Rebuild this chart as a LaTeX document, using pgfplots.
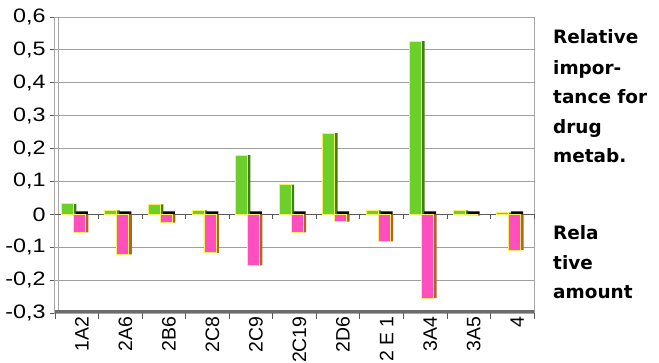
\documentclass[border=0pt]{standalone}
\usepackage{pgfplots}
\pgfplotsset{compat=1.18}
\usepackage{fontspec}
\setmainfont{Liberation Sans}
\newfontfamily\dv{DejaVu Sans}
\newfontfamily\ytf[FakeStretch=1.2]{Liberation Sans}
\definecolor{gfront}{HTML}{6CCF2A}
\definecolor{gside}{HTML}{3F7E14}
\definecolor{pfront}{HTML}{FF4FBF}
\definecolor{pside}{HTML}{B0642A}
\definecolor{edge}{HTML}{F4F060}
\begin{document}
\begin{tikzpicture}
\useasboundingbox (-55bp,-50bp) rectangle (604bp,313bp);
\begin{axis}[
  at={(0,0)}, anchor=south west,
  scale only axis, width=479bp, height=296bp,
  xmin=-0.5, xmax=10.5, ymin=-0.3, ymax=0.6,
  ytick={-0.3,-0.2,...,0.6},
  xtick={-0.5,0.5,...,10.5}, xticklabels={},
  extra x ticks={0,1,2,3,4,5,6,7,8,9,10},
  extra x tick labels={1A2,2A6,2B6,2C8,2C9,2C19,2D6,2 E 1,3A4,3A5,4},
  extra x tick style={major tick length=0pt, xticklabel style={rotate=90, anchor=east, yshift=-5bp, font=\fontsize{19.5}{19.5}\selectfont}},
  tick align=outside, major tick length=5bp,
  tick style={gray!70!black, line width=0.8bp},
  xtick pos=bottom, ytick pos=left,
  ymajorgrids, grid style={gray!75, line width=1bp},
  axis line style={gray!70, line width=1bp},
  /pgf/number format/assume math mode=true,
  /pgf/number format/use comma,
  /pgf/number format/fixed,
  /pgf/number format/precision=1,
  yticklabel={\ytf\fontsize{19.5}{19.5}\selectfont\pgfmathprintnumber{\tick}},
  yticklabel style={xshift=-1bp},
  clip=false,
]
% left wall inner line
\draw[gray!70, line width=1bp] ([xshift=4bp]axis cs:-0.5,-0.3) -- ([xshift=4bp]axis cs:-0.5,0.6);
% floor
\draw[gray!85!black, line width=3.5bp] ([yshift=1.75bp]axis cs:-0.5,-0.3) -- ([yshift=1.75bp]axis cs:10.5,-0.3);
% zero line
\draw[gray!70!black, line width=1.2bp] (axis cs:-0.5,0) -- (axis cs:10.5,0);
\pgfplotsinvokeforeach{0.5,1.5,2.5,3.5,4.5,5.5,6.5,7.5,8.5,9.5,10.5}{\draw[gray!70!black, line width=0.8bp] (axis cs:#1,0) -- ([yshift=-5bp]axis cs:#1,0);}
\pgfplotsinvokeforeach{-0.5,0.5,1.5,2.5,3.5,4.5,5.5,6.5,7.5,8.5,9.5,10.5}{\draw[gray!70!black, line width=0.8bp] (axis cs:#1,-0.3) -- ([yshift=-6bp]axis cs:#1,-0.3);}
% green shadows and fronts
\addplot[ybar, bar width=12bp, bar shift=-6.5bp, fill=gside, draw=none]
  coordinates {(0,0.032) (1,0.012) (2,0.030) (3,0.012) (4,0.180) (5,0.090) (6,0.247) (7,0.012) (8,0.527) (9,0.012) (10,0.005)};
\addplot[ybar, bar width=12bp, bar shift=-9.5bp, fill=gfront, draw=edge, line width=0.7bp]
  coordinates {(0,0.032) (1,0.012) (2,0.030) (3,0.012) (4,0.180) (5,0.090) (6,0.247) (7,0.012) (8,0.527) (9,0.012) (10,0.005)};
% pink tops (black), shadows and fronts
\addplot[ybar, bar width=12bp, bar shift=5bp, fill=black, draw=none]
  coordinates {(0,0.009) (1,0.009) (2,0.009) (3,0.009) (4,0.009) (5,0.009) (6,0.009) (7,0.009) (8,0.009) (9,0.009) (10,0.009)};
\addplot[ybar, bar width=12bp, bar shift=5.5bp, fill=pside, draw=none]
  coordinates {(0,-0.055) (1,-0.122) (2,-0.025) (3,-0.117) (4,-0.155) (5,-0.055) (6,-0.022) (7,-0.082) (8,-0.255) (9,-0.004) (10,-0.108)};
\addplot[ybar, bar width=12bp, bar shift=2.5bp, fill=pfront, draw=edge, line width=0.7bp]
  coordinates {(0,-0.055) (1,-0.122) (2,-0.025) (3,-0.117) (4,-0.155) (5,-0.055) (6,-0.022) (7,-0.082) (8,-0.255) (9,-0.004) (10,-0.108)};
\end{axis}
\begin{scope}[every node/.style={anchor=base west, inner sep=0pt, font=\dv\bfseries\fontsize{18.5}{18.5}\selectfont}]
\node at (498bp,269.5bp) {Relative};
\node at (498bp,238.5bp) {impor-};
\node at (498bp,209.5bp) {tance for};
\node at (498bp,179.5bp) {drug};
\node at (498bp,150.5bp) {metab.};
\node at (498bp,73.5bp) {Rela};
\node at (498bp,43.5bp) {tive};
\node at (498bp,14.5bp) {amount};
\end{scope}
\end{tikzpicture}
\end{document}
